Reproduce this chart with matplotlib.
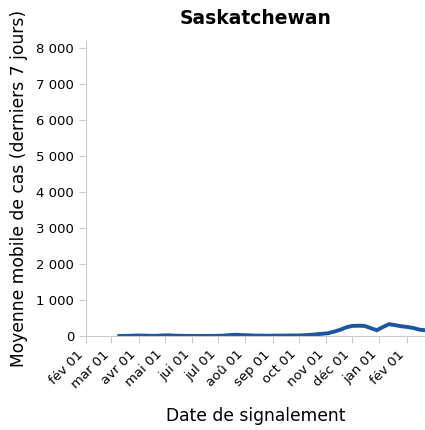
import matplotlib
matplotlib.use("Agg")
import matplotlib.pyplot as plt
import pandas as pd

# axis styling through rcParams (light grey axis lines and ticks, no top/right spines)
plt.rcParams['axes.edgecolor'] = '#cccccc'
plt.rcParams['axes.spines.top'] = False
plt.rcParams['axes.spines.right'] = False
plt.rcParams['xtick.color'] = '#cccccc'
plt.rcParams['ytick.color'] = '#cccccc'
plt.rcParams['xtick.labelcolor'] = 'black'
plt.rcParams['ytick.labelcolor'] = 'black'
plt.rcParams['xtick.major.size'] = 5
plt.rcParams['ytick.major.size'] = 5

# weekly points (7-day moving average of cases)
dates = pd.to_datetime([
    "2020-03-10", "2020-03-17", "2020-03-24", "2020-03-31", "2020-04-07", "2020-04-14",
    "2020-04-21", "2020-04-28", "2020-05-05", "2020-05-12", "2020-05-19", "2020-05-26",
    "2020-06-02", "2020-06-09", "2020-06-16", "2020-06-23", "2020-06-30", "2020-07-07",
    "2020-07-14", "2020-07-21", "2020-07-28", "2020-08-04", "2020-08-11", "2020-08-18",
    "2020-08-25", "2020-09-01", "2020-09-08", "2020-09-15", "2020-09-22", "2020-09-29",
    "2020-10-06", "2020-10-13", "2020-10-20", "2020-10-27", "2020-11-03", "2020-11-10",
    "2020-11-17", "2020-11-24", "2020-12-01", "2020-12-08", "2020-12-15", "2020-12-22",
    "2020-12-29", "2021-01-05", "2021-01-12", "2021-01-19", "2021-01-26", "2021-02-02",
    "2021-02-09", "2021-02-16", "2021-02-22",
])
avg_cases = [
    1, 3, 8, 15, 10, 7,
    5, 15, 20, 10, 5, 3,
    3, 2, 2, 3, 5, 10,
    25, 35, 25, 20, 12, 10,
    8, 10, 10, 12, 15, 15,
    20, 30, 45, 60, 75, 120,
    170, 240, 280, 285, 280, 220,
    160, 250, 330, 300, 270, 250,
    220, 175, 160,
]

month_labels = ["fév 01", "mar 01", "avr 01", "mai 01", "jui 01", "jul 01", "aoû 01",
                "sep 01", "oct 01", "nov 01", "déc 01", "jan 01", "fév 01"]
month_ticks = pd.date_range("2020-02-01", "2021-02-01", freq="MS")
y_ticks = list(range(0, 8001, 1000))

fig = plt.figure(figsize=(4.25, 4.30), dpi=100)
ax = fig.add_axes([86 / 425, 94 / 430, (425 - 86) / 425, (336 - 40.5) / 430])

ax.plot(dates, avg_cases, color="#1a56a2", lw=2.8)

ax.set_xlim(pd.Timestamp("2020-02-01"), pd.Timestamp("2021-02-22"))
ax.set_ylim(0, 8200)

ax.set_yticks(y_ticks)
ax.set_yticklabels([f"{v:,}".replace(",", " ") for v in y_ticks], fontsize=9.5)
ax.set_xticks(month_ticks)
ax.set_xticklabels(month_labels, rotation=45, ha="right", fontsize=9.5)

ax.set_title("Saskatchewan", fontsize=13.5, fontweight="bold", pad=12)
ax.set_ylabel("Moyenne mobile de cas (derniers 7 jours)", fontsize=12.3, labelpad=6)
ax.set_xlabel("Date de signalement", fontsize=12.3, labelpad=12)

fig.savefig("out.png", dpi=100)
